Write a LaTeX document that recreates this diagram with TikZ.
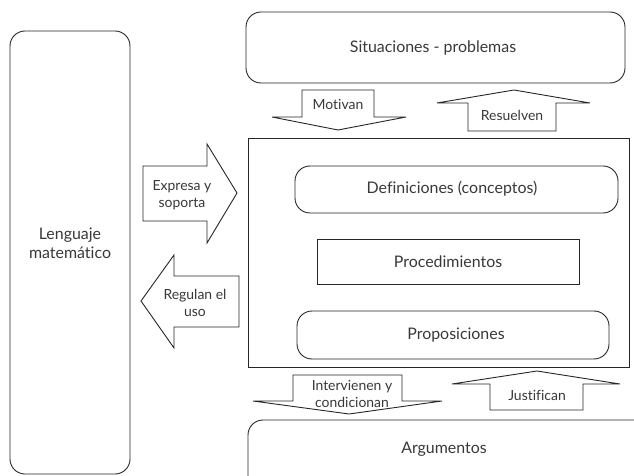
\documentclass[tikz,border=0pt]{standalone}
\usepackage{fontspec}
\setmainfont{Lato}[Ligatures=NoCommon]
\begin{document}
\begin{tikzpicture}[x=1bp,y=-1bp,
  line width=0.9bp,
  txt/.style={text=black!78, font=\fontsize{16}{19}\selectfont, align=center, inner sep=0pt},
  lbl/.style={text=black!78, font=\fontsize{14}{17}\selectfont, align=center, inner sep=0pt},
  rbox/.style={draw=black!85, rounded corners=15bp},
  sbox/.style={draw=black!85},
  blockarrow/.style={draw=black!85, fill=white, line join=miter}]
\useasboundingbox (0,0) rectangle (634,476);
\begin{scope}
\clip (0,0) rectangle (634,476);
% left box
\draw[rbox] (10,31) rectangle (130,474);
\node[txt] (leng) at (70,243) {Lenguaje\\matemático};
% top box
\draw[rbox] (246,12) rectangle (625,83);
\node[txt] (sit) at (433,48) {Situaciones - problemas};
% big box
\draw[sbox] (248,138) rectangle (629,367);
\draw[rbox] (295,166) rectangle (618,213);
\node[txt] (def) at (452,189) {Definiciones (conceptos)};
\draw[sbox] (317,239) rectangle (579,284);
\node[txt] (proc) at (448,262) {Procedimientos};
\draw[rbox] (297,311) rectangle (609,359);
\node[txt] (prop) at (456,335) {Proposiciones};
% bottom box
\draw[rbox] (248,420) rectangle (660,500);
\node[txt] (arg) at (444,449) {Argumentos};
% Motivan
\draw[blockarrow] (302,90) -- (374,90) -- (374,117) -- (406,117) -- (338,130) -- (272,117) -- (302,117) -- cycle;
\node[lbl] (mot) at (338,104) {Motivan};
% Resuelven
\draw[blockarrow] (468,131) -- (556,131) -- (556,103) -- (590,103) -- (514,90) -- (437,103) -- (468,103) -- cycle;
\node[lbl] (res) at (512,115) {Resuelven};
% Expresa y soporta
\draw[blockarrow] (143,166) -- (207,166) -- (207,144) -- (237,193) -- (207,243) -- (207,221) -- (143,221) -- cycle;
\node[lbl] (exp) at (182,195) {Expresa y\\soporta};
% Regulan el uso
\draw[blockarrow] (239,276) -- (174,276) -- (174,255) -- (141,301) -- (174,348) -- (174,327) -- (239,327) -- cycle;
\node[lbl] (reg) at (195,303) {Regulan el\\uso};
% Intervienen y condicionan
\draw[blockarrow] (293,375) -- (402,375) -- (402,401) -- (442,401) -- (349,414) -- (253,401) -- (293,401) -- cycle;
\node[lbl] (int) at (352,394) {Intervienen y\\condicionan};
% Justifican
\draw[blockarrow] (490,410) -- (583,410) -- (583,384) -- (620,384) -- (537,371) -- (452,384) -- (490,384) -- cycle;
\node[lbl] (jus) at (537,395) {Justifican};
\end{scope}
\end{tikzpicture}
\end{document}
